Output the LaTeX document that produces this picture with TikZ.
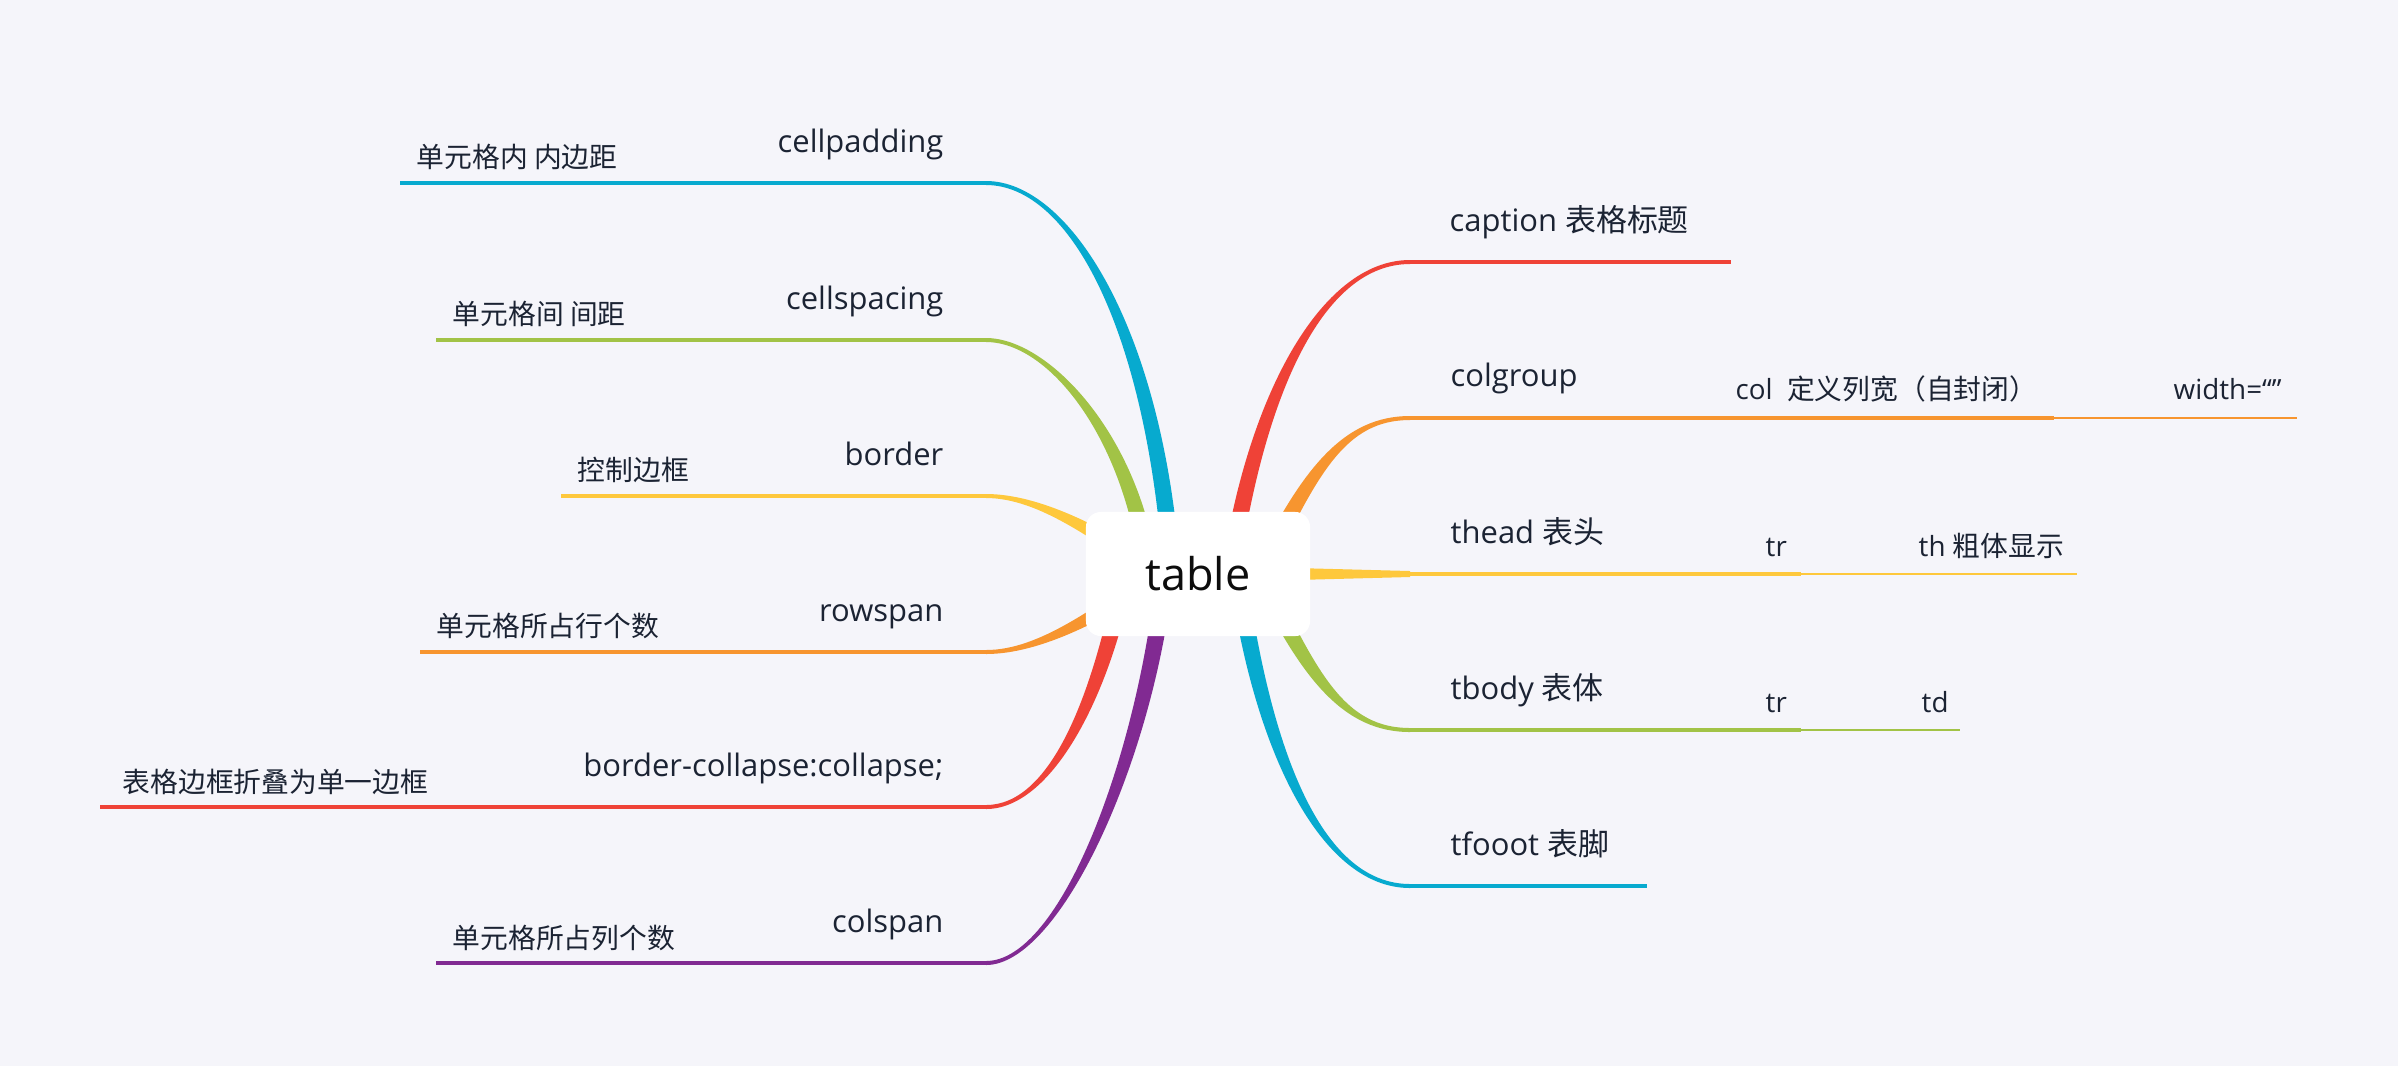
\documentclass[tikz,border=0pt]{standalone}
\usepackage{fontspec}
\setmainfont{Open Sans}
\newfontfamily\cjk{Noto Sans CJK SC}
\usetikzlibrary{calc}
\definecolor{paper}{HTML}{F5F5FA}
\definecolor{ink}{HTML}{1B2333}
\definecolor{blue1}{HTML}{07AACF}
\definecolor{green1}{HTML}{A2C346}
\definecolor{yellow1}{HTML}{FEC83C}
\definecolor{orange1}{HTML}{F7952F}
\definecolor{red1}{HTML}{EF4237}
\definecolor{purple1}{HTML}{812A92}
% half widths of a branch: at its tip and at the centre
\newcommand{\tipw}{0.02cm}
\newcommand{\rootw}{0.085cm}
% tapered branch: colour, tip, control at tip, control at centre, centre end
\newcommand{\twig}[5]{%
  \fill[#1] ($(#2)!\tipw!90:(#3)$) .. controls ($(#3)!\tipw!-90:(#2)$) and ($(#4)!\rootw!90:(#5)$) .. ($(#5)!\rootw!-90:(#4)$)
    -- ($(#5)!\rootw!90:(#4)$) .. controls ($(#4)!\rootw!-90:(#5)$) and ($(#3)!\tipw!90:(#2)$) .. ($(#2)!\tipw!-90:(#3)$) -- cycle;}
\tikzset{
  lvone/.style={font=\fontsize{8.8}{10}\selectfont,text=ink,inner sep=0pt},
  lvtwo/.style={font=\fontsize{7.9}{9}\selectfont,text=ink,inner sep=0pt},
  bar/.style={line width=0.035cm},
  thinbar/.style={line width=0.015cm},
  rootbox/.style={fill=white,rounded corners=0.15cm,minimum width=2.24cm,minimum height=1.24cm,
                  font=\fontsize{12.8}{14}\selectfont,text=black!95}
}
\begin{document}
\begin{tikzpicture}[x=0.01cm,y=-0.01cm]
  \fill[paper] (0,0) rectangle (2398,1066);
  % cellpadding
  \coordinate (padL) at (400,183);
  \coordinate (padR) at (986,183);
  \draw[bar,blue1] (padL) -- (padR);
  \twig{blue1}{padR}{1070,183}{1155,330}{1172,574}
  \node[lvone,anchor=base east] (cellpadding) at (944,152) {cellpadding};
  \node[lvtwo,anchor=base west] (padcn) at (416,167) {\cjk 单元格内 内边距};
  % cellspacing
  \coordinate (spaL) at (436,340);
  \coordinate (spaR) at (986,340);
  \draw[bar,green1] (spaL) -- (spaR);
  \twig{green1}{spaR}{1050,340}{1135,440}{1150,580}
  \node[lvone,anchor=base east] (cellspacing) at (944,309) {cellspacing};
  \node[lvtwo,anchor=base west] (spacn) at (452,324) {\cjk 单元格间 间距};
  % border
  \coordinate (borL) at (561,496);
  \coordinate (borR) at (986,496);
  \draw[bar,yellow1] (borL) -- (borR);
  \twig{yellow1}{borR}{1040,496}{1100,535}{1160,574}
  \node[lvone,anchor=base east] (border) at (944,465) {border};
  \node[lvtwo,anchor=base west] (borcn) at (577,480) {\cjk 控制边框};
  % rowspan
  \coordinate (rowL) at (420,652);
  \coordinate (rowR) at (986,652);
  \draw[bar,orange1] (rowL) -- (rowR);
  \twig{orange1}{rowR}{1040,652}{1100,613}{1160,574}
  \node[lvone,anchor=base east] (rowspan) at (944,621) {rowspan};
  \node[lvtwo,anchor=base west] (rowcn) at (436,636) {\cjk 单元格所占行个数};
  % border-collapse
  \coordinate (cllL) at (100,807);
  \coordinate (cllR) at (986,807);
  \draw[bar,red1] (cllL) -- (cllR);
  \twig{red1}{cllR}{1050,807}{1100,700}{1125,574}
  \node[lvone,anchor=base east] (collapse) at (944,776) {border-collapse:collapse;};
  \node[lvtwo,anchor=base west] (cllcn) at (122,792) {\cjk 表格边框折叠为单一边框};
  % colspan
  \coordinate (cspL) at (436,963);
  \coordinate (cspR) at (986,963);
  \draw[bar,purple1] (cspL) -- (cspR);
  \twig{purple1}{cspR}{1060,963}{1145,760}{1165,574}
  \node[lvone,anchor=base east] (colspan) at (944,932) {colspan};
  \node[lvtwo,anchor=base west] (cspcn) at (452,948) {\cjk 单元格所占列个数};

  % caption
  \coordinate (capL) at (1410,262);
  \coordinate (capR) at (1731,262);
  \draw[bar,red1] (capL) -- (capR);
  \twig{red1}{capL}{1320,262}{1255,400}{1230,574}
  \node[lvone,anchor=base west] (caption) at (1449,231) {caption {\cjk 表格标题}};
  % colgroup
  \coordinate (cgrL) at (1410,418);
  \coordinate (cgrM) at (2054,418);
  \coordinate (cgrR) at (2297,418);
  \draw[bar,orange1] (cgrL) -- (cgrM);
  \draw[thinbar,orange1] (cgrM) -- (cgrR);
  \twig{orange1}{cgrL}{1345,418}{1310,470}{1260,574}
  \node[lvone,anchor=base west] (colgroup) at (1450,386) {colgroup};
  \node[lvtwo,anchor=base west] (col) at (1735,399) {col\ \ {\cjk 定义列宽（自封闭）}};
  \node[lvtwo,anchor=base west] (width) at (2173,399) {width=“”};
  % thead
  \coordinate (thdL) at (1410,574);
  \coordinate (thdM) at (1801,574);
  \coordinate (thdR) at (2077,574);
  \fill[yellow1] (1200,565.5) -- ($(thdL)+(0,-3)$) -- ($(thdL)+(0,3)$) -- (1200,582.5) -- cycle;
  \draw[bar,yellow1] (thdL) -- (thdM);
  \draw[thinbar,yellow1] (thdM) -- (thdR);
  \node[lvone,anchor=base west] (thead) at (1450,543) {thead {\cjk 表头}};
  \node[lvtwo,anchor=base west] (headtr) at (1765,556) {tr};
  \node[lvtwo,anchor=base west] (th) at (1918,556) {th {\cjk 粗体显示}};
  % tbody
  \coordinate (tbdL) at (1410,730);
  \coordinate (tbdM) at (1801,730);
  \coordinate (tbdR) at (1960,730);
  \draw[bar,green1] (tbdL) -- (tbdM);
  \draw[thinbar,green1] (tbdM) -- (tbdR);
  \twig{green1}{tbdL}{1345,730}{1310,678}{1260,574}
  \node[lvone,anchor=base west] (tbody) at (1450,699) {tbody {\cjk 表体}};
  \node[lvtwo,anchor=base west] (bodytr) at (1765,712) {tr};
  \node[lvtwo,anchor=base west] (td) at (1921,712) {td};
  % tfooot
  \coordinate (tftL) at (1410,886);
  \coordinate (tftR) at (1647,886);
  \draw[bar,blue1] (tftL) -- (tftR);
  \twig{blue1}{tftL}{1320,886}{1262,748}{1238,574}
  \node[lvone,anchor=base west] (tfooot) at (1450,855) {tfooot {\cjk 表脚}};

  % centre topic
  \node[rootbox] (table) at (1198,574) {table};
\end{tikzpicture}
\end{document}
